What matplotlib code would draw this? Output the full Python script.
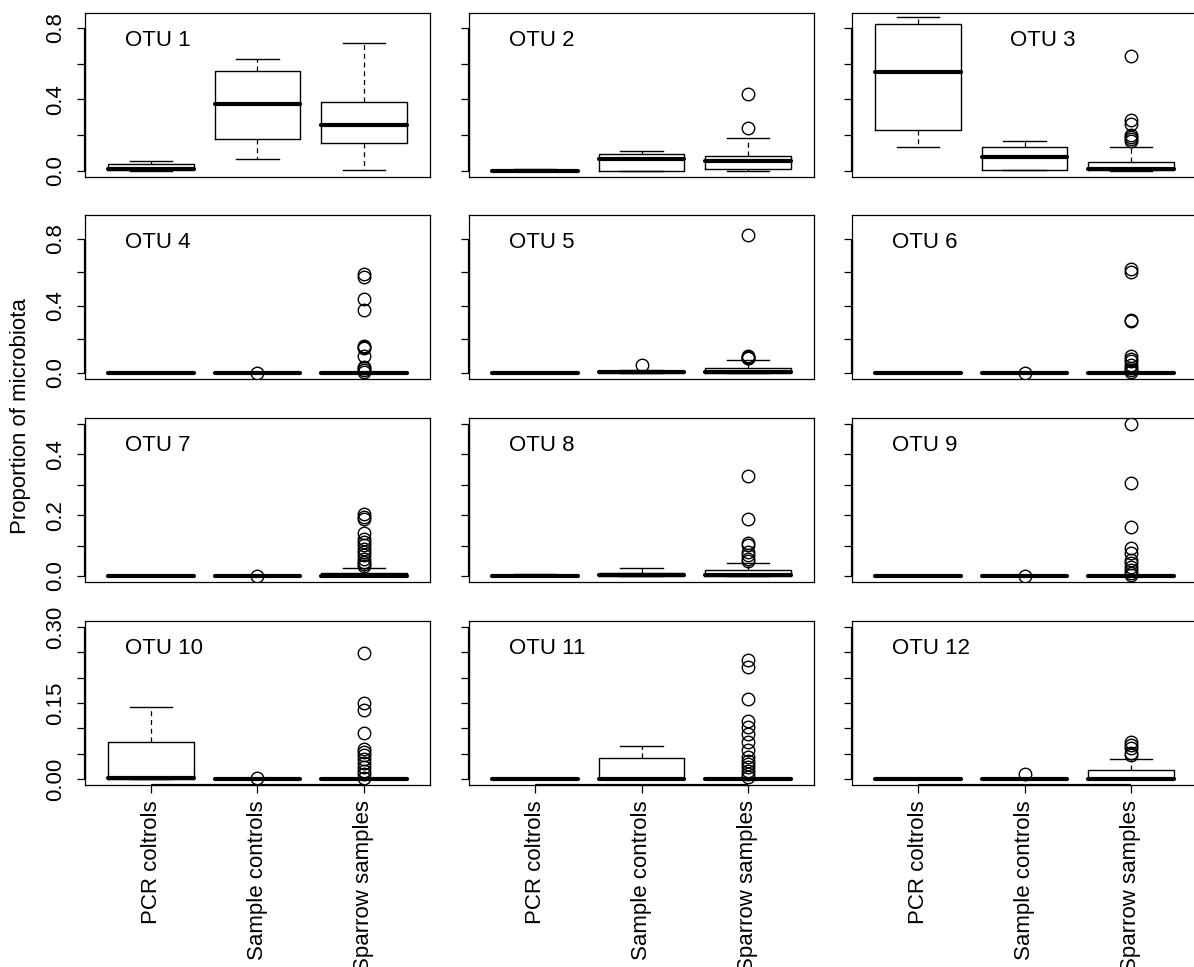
import numpy as np
import matplotlib.pyplot as plt
import matplotlib.transforms as mtransforms

plt.rcParams['font.family'] = ['Liberation Sans', 'DejaVu Sans']
plt.rcParams['font.size'] = 16

# Grupos y nombres de los OTU
groups = ['PCR coltrols', 'Sample controls', 'Sparrow samples']
otu_names = ['OTU 1', 'OTU 2', 'OTU 3', 'OTU 4', 'OTU 5', 'OTU 6',
             'OTU 7', 'OTU 8', 'OTU 9', 'OTU 10', 'OTU 11', 'OTU 12']

# Estadisticos de cada caja: una fila por OTU, una columna por grupo
whislo = [
    [0.0, 0.064, 0.004],
    [0.0, 0.0, 0.0],
    [0.135, 0.005, 0.002],
    [0.0, 0.0, 0.0],
    [0.0, 0.0, 0.0],
    [0.0, 0.0, 0.0],
    [0.0, 0.0, 0.0],
    [0.0, 0.0, 0.0],
    [0.0, 0.0, 0.0],
    [0.0, 0.0, 0.0],
    [0.0, 0.0, 0.0],
    [0.0, 0.0, 0.0],
]
q1 = [
    [0.003, 0.178, 0.154],
    [0.0, 0.0, 0.013],
    [0.229, 0.007, 0.006],
    [0.0, 0.0, 0.0],
    [0.0, 0.001, 0.001],
    [0.0, 0.0, 0.0],
    [0.0, 0.0, 0.0],
    [0.0, 0.001, 0.001],
    [0.0, 0.0, 0.0],
    [0.0, 0.0, 0.0],
    [0.0, 0.0, 0.0],
    [0.0, 0.0, 0.0],
]
med = [
    [0.010, 0.373, 0.257],
    [0.002, 0.066, 0.054],
    [0.553, 0.079, 0.013],
    [0.0, 0.0, 0.0],
    [0.0, 0.004, 0.004],
    [0.0, 0.0, 0.0],
    [0.0, 0.0, 0.0],
    [0.001, 0.004, 0.002],
    [0.0, 0.0, 0.0],
    [0.001, 0.0, 0.0],
    [0.0, 0.0, 0.0],
    [0.0, 0.0, 0.0],
]
q3 = [
    [0.041, 0.558, 0.386],
    [0.005, 0.096, 0.084],
    [0.822, 0.133, 0.052],
    [0.0, 0.0, 0.001],
    [0.0, 0.008, 0.032],
    [0.0, 0.0, 0.0],
    [0.0, 0.0, 0.010],
    [0.003, 0.009, 0.018],
    [0.0, 0.0, 0.0],
    [0.072, 0.0, 0.0],
    [0.0005, 0.041, 0.0],
    [0.0, 0.0, 0.017],
]
whishi = [
    [0.058, 0.624, 0.718],
    [0.013, 0.114, 0.187],
    [0.862, 0.167, 0.135],
    [0.0, 0.0, 0.002],
    [0.0, 0.015, 0.078],
    [0.0, 0.0, 0.0],
    [0.0, 0.0, 0.026],
    [0.006, 0.027, 0.044],
    [0.0, 0.0, 0.0],
    [0.143, 0.0, 0.0],
    [0.001, 0.066, 0.0],
    [0.0, 0.0, 0.040],
]
outliers = [
    [[], [], []],
    [[], [], [0.24, 0.429]],
    [[], [], [0.646, 0.285, 0.264, 0.20, 0.19, 0.177, 0.168]],
    [[], [0.002], [0.591, 0.571, 0.442, 0.376, 0.163, 0.155, 0.147, 0.098,
                   0.038, 0.028, 0.018, 0.008]],
    [[], [0.046], [0.82, 0.10, 0.096, 0.09, 0.087]],
    [[], [0.001], [0.621, 0.60, 0.316, 0.312, 0.10, 0.085, 0.07, 0.05,
                   0.03, 0.015, 0.004]],
    [[], [0.001], [0.204, 0.195, 0.187, 0.14, 0.123, 0.112, 0.101, 0.09,
                   0.079, 0.068, 0.057, 0.046, 0.038, 0.032]],
    [[], [], [0.328, 0.187, 0.109, 0.101, 0.079, 0.068, 0.057, 0.05]],
    [[], [0.001], [0.5, 0.306, 0.162, 0.093, 0.076, 0.054, 0.041, 0.03,
                   0.019, 0.008, 0.002]],
    [[], [0.001], [0.249, 0.150, 0.137, 0.090, 0.059, 0.054, 0.048, 0.039,
                   0.031, 0.023, 0.015, 0.009, 0.002]],
    [[], [], [0.234, 0.222, 0.157, 0.114, 0.103, 0.089, 0.072, 0.058,
              0.043, 0.036, 0.03, 0.023, 0.016, 0.01, 0.003]],
    [[], [0.01], [0.073, 0.068, 0.061, 0.051, 0.048]],
]

# Escala y de cada fila
row_ylim = [(-0.034, 0.884), (-0.036, 0.94), (-0.02, 0.52), (-0.012, 0.312)]
row_ticks = [[0.0, 0.2, 0.4, 0.6, 0.8],
             [0.0, 0.2, 0.4, 0.6, 0.8],
             [0.0, 0.1, 0.2, 0.3, 0.4, 0.5],
             [0.0, 0.05, 0.10, 0.15, 0.20, 0.25, 0.30]]
row_ticklabels = [['0.0', '', '0.4', '', '0.8'],
                  ['0.0', '', '0.4', '', '0.8'],
                  ['0.0', '', '0.2', '', '0.4', ''],
                  ['0.00', '', '', '0.15', '', '', '0.30']]

# Posicion de los paneles en pixeles
W, H = 1194, 967
col_left = [85, 469, 852]
row_top = [13, 215, 418, 621]
pw, ph = 345, 164
label_pos = [(0.116, 0.83)] * 12
label_pos[2] = (0.458, 0.83)

fig = plt.figure(figsize=(W / 100, H / 100), dpi=100)

for i in range(12):
    r, c = divmod(i, 3)
    ax = fig.add_axes([col_left[c] / W, 1 - (row_top[r] + ph) / H, pw / W, ph / H])
    stats = []
    for g in range(3):
        stats.append(dict(whislo=whislo[i][g], q1=q1[i][g], med=med[i][g],
                          q3=q3[i][g], whishi=whishi[i][g], fliers=outliers[i][g]))
    ax.bxp(stats, positions=[1, 2, 3], widths=0.8, capwidths=0.4,
           boxprops=dict(color='black', linewidth=1.0),
           whiskerprops=dict(color='black', linewidth=0.9, linestyle=(0, (4, 3))),
           capprops=dict(color='black', linewidth=1.0),
           medianprops=dict(color='black', linewidth=3.0, solid_capstyle='round'),
           flierprops=dict(marker='o', markerfacecolor='none', markeredgecolor='black',
                           markersize=9, markeredgewidth=1.0))
    ax.set_xlim(0.38, 3.62)
    ax.set_ylim(*row_ylim[r])
    for s in ax.spines.values():
        s.set_linewidth(0.9)

    ax.set_yticks(row_ticks[r])
    ax.tick_params(axis='y', length=5.8, width=0.9, pad=8, labelrotation=90)
    if c == 0:
        ax.set_yticklabels(row_ticklabels[r])
        for lab in ax.get_yticklabels():
            lab.set_va('center')
    else:
        ax.set_yticklabels([])
    # linea del eje solo entre el primer y el ultimo tick
    tr = mtransforms.blended_transform_factory(ax.transAxes, ax.transData)
    ax.plot([0, 0], [row_ticks[r][0], row_ticks[r][-1]], transform=tr,
            color='black', linewidth=1.6, clip_on=False, solid_capstyle='butt')

    if r == 3:
        ax.set_xticks([1, 2, 3])
        ax.set_xticklabels(groups, rotation=90, va='top', ha='center')
        ax.tick_params(axis='x', length=5.8, width=0.9, pad=5)
        tr = mtransforms.blended_transform_factory(ax.transData, ax.transAxes)
        ax.plot([1, 3], [0, 0], transform=tr, color='black', linewidth=1.6,
                clip_on=False, solid_capstyle='butt')
    else:
        ax.set_xticks([])

    ax.text(label_pos[i][0], label_pos[i][1], otu_names[i], transform=ax.transAxes,
            ha='left', va='center')

fig.text(21 / W, 1 - 416 / H, 'Proportion of microbiota', rotation=90,
         ha='center', va='center')

fig.savefig('out.png', dpi=100)
